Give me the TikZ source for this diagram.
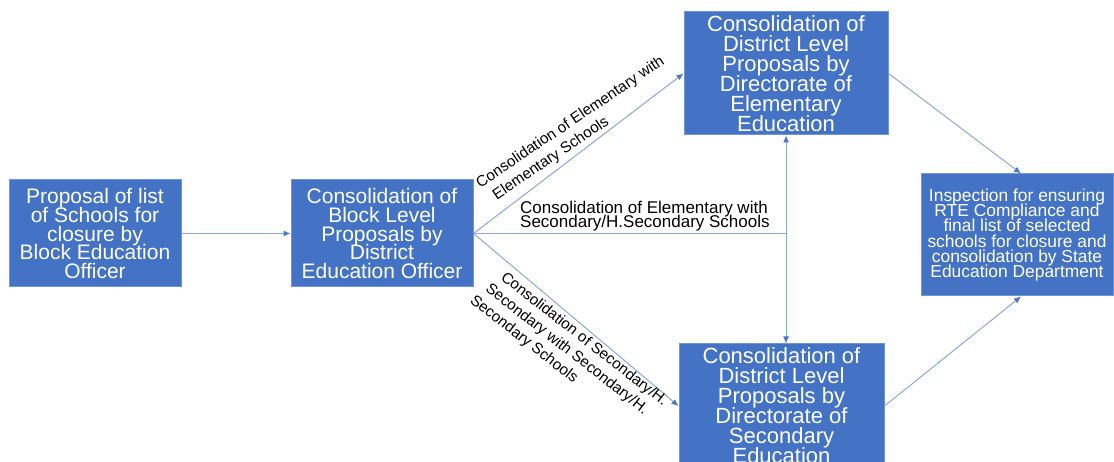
\documentclass[tikz,border=0pt]{standalone}
\usepackage{fontspec}
\setmainfont{Liberation Sans}
\usetikzlibrary{arrows.meta}
\definecolor{boxfill}{HTML}{4472C4}
\definecolor{boxedge}{HTML}{7196D8}
\definecolor{linkline}{HTML}{8AA8DD}
\definecolor{linktip}{HTML}{4A78C8}
\begin{document}
% allow tight leading in the multi-line nodes
\setlength{\lineskiplimit}{-30pt}
\begin{tikzpicture}[x=1pt,y=-1pt,
  stagebox/.style={rectangle, fill=boxfill, draw=boxedge, line width=1pt,
    text=white, align=center, inner sep=0pt},
  bigtext/.style={font=\fontsize{22}{20}\selectfont},
  midtext/.style={font=\fontsize{21}{18.8}\selectfont},
  smalltext/.style={font=\fontsize{17.4}{15.3}\selectfont},
  flatlabel/.style={font=\fontsize{17}{14}\selectfont,
    align=left, inner sep=0pt, text=black},
  upperlabel/.style={font=\fontsize{15.3}{19}\selectfont,
    align=left, inner sep=0pt, text=black},
  lowerlabel/.style={font=\fontsize{15.3}{18.5}\selectfont,
    align=left, inner sep=0pt, text=black},
  flow/.style={draw=linkline, line width=1pt,
    -{Latex[length=7pt,width=6pt,color=linktip]}},
  twoway/.style={draw=linkline, line width=1pt,
    {Latex[length=7pt,width=6pt,color=linktip]}-{Latex[length=7pt,width=6pt,color=linktip]}},
  plainlink/.style={draw=linkline, line width=1pt}
]
\clip (0,0) rectangle (1114,462);
\fill[white] (0,0) rectangle (1114,462);

% stages of the procedure
\node[stagebox, midtext, minimum width=172pt, minimum height=107pt] (beo) at (95,233.5)
  {Proposal of list\\of Schools for\\closure by\\Block Education\\Officer};
\node[stagebox, midtext, minimum width=182pt, minimum height=107pt] (deo) at (382,233.5)
  {Consolidation of\\Block Level\\Proposals by\\District\\Education Officer};
\node[stagebox, bigtext, minimum width=204pt, minimum height=123pt] (elem) at (786,73.5)
  {Consolidation of\\District Level\\Proposals by\\Directorate of\\Elementary\\Education};
\node[stagebox, bigtext, minimum width=205pt, minimum height=124pt] (sec) at (781.5,406)
  {Consolidation of\\District Level\\Proposals by\\Directorate of\\Secondary\\Education};
\node[stagebox, smalltext, minimum width=192pt, minimum height=122pt] (state) at (1017,235)
  {Inspection for ensuring\\RTE Compliance and\\final list of selected\\schools for closure and\\consolidation by State\\Education Department};

% connectors
\coordinate (junction) at (deo.east -| elem.south);
\draw[flow] (beo) -- (deo);
\draw[flow] (deo.east) -- (elem.west);
\draw[flow] (deo.east) -- (sec.west);
\draw[plainlink] (deo.east) -- (junction);
\draw[twoway] (elem.south) -- (elem.south |- sec.north);
\draw[flow] (elem.east) -- ([xshift=4pt]state.north);
\draw[flow] (sec.east) -- ([xshift=4pt]state.south);

% connector labels
\node[upperlabel, rotate=34, anchor=north west] (lblelem) at (474,179)
  {Consolidation of Elementary with\\\hspace*{7pt}Elementary Schools};
\node[flatlabel, anchor=south west] (lblmixed) at (520,231)
  {Consolidation of Elementary with\\Secondary/H.Secondary Schools};
\node[lowerlabel, rotate=-38, anchor=north west] (lblsec) at (499,264)
  {\hspace*{10pt}Consolidation of Secondary/H.\\\hspace*{5pt}Secondary with Secondary/H.\\Secondary Schools};
\end{tikzpicture}
\end{document}
